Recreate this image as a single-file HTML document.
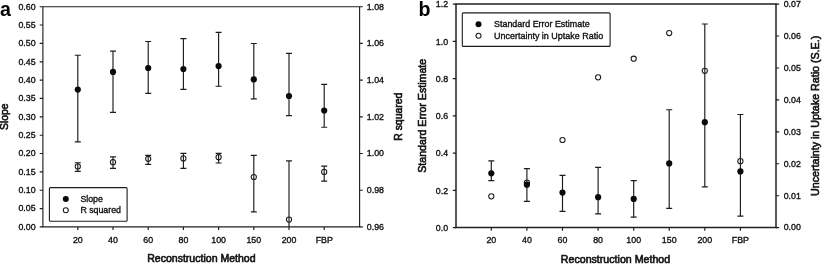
<!DOCTYPE html>
<html lang="en"><head><meta charset="utf-8"><title>Reconstruction Method charts</title>
<style>html,body{margin:0;padding:0;background:#fff;}body{width:822px;height:264px;overflow:hidden;}svg{display:block;}text{font-family:"Liberation Sans", Arial, Helvetica, sans-serif;fill:#111;stroke:#111;stroke-width:0.3px;}.tk{font-size:8.8px;stroke-width:0.35px;}.ti{font-size:10.6px;stroke-width:0.6px;}.pl{font-size:19.6px;font-weight:bold;fill:#000;stroke:none;}.ln{stroke:#1c1c1c;stroke-width:1.15;fill:none;}.ax{stroke:#202020;stroke-width:1.05;fill:none;}.fc{fill:#0a0a0a;stroke:none;}.oc{fill:none;stroke:#1c1c1c;stroke-width:1.05;}</style></head><body>
<svg width="822" height="264" viewBox="0 0 822 264">
<rect x="0" y="0" width="822" height="264" fill="#ffffff"/>
<path class="ax" style="stroke-width:1.15" d="M42.9 6.7H359.6V226.9H42.9Z"/>
<path class="ln" d="M77.8 226.9v3.2M113.0 226.9v3.2M148.2 226.9v3.2M183.4 226.9v3.2M218.6 226.9v3.2M253.8 226.9v3.2M289.0 226.9v3.2M324.2 226.9v3.2M42.9 226.9h-3.2M42.9 208.6h-3.2M42.9 190.2h-3.2M42.9 171.8h-3.2M42.9 153.5h-3.2M42.9 135.2h-3.2M42.9 116.8h-3.2M42.9 98.4h-3.2M42.9 80.1h-3.2M42.9 61.8h-3.2M42.9 43.4h-3.2M42.9 25.0h-3.2M42.9 6.7h-3.2M359.6 226.9h3.2M359.6 190.2h3.2M359.6 153.5h3.2M359.6 116.8h3.2M359.6 80.1h3.2M359.6 43.4h3.2M359.6 6.7h3.2"/>
<text class="tk" x="35.6" y="229.8" text-anchor="end">0.00</text>
<text class="tk" x="35.6" y="211.4" text-anchor="end">0.05</text>
<text class="tk" x="35.6" y="193.0" text-anchor="end">0.10</text>
<text class="tk" x="35.6" y="174.7" text-anchor="end">0.15</text>
<text class="tk" x="35.6" y="156.3" text-anchor="end">0.20</text>
<text class="tk" x="35.6" y="138.0" text-anchor="end">0.25</text>
<text class="tk" x="35.6" y="119.6" text-anchor="end">0.30</text>
<text class="tk" x="35.6" y="101.3" text-anchor="end">0.35</text>
<text class="tk" x="35.6" y="82.9" text-anchor="end">0.40</text>
<text class="tk" x="35.6" y="64.6" text-anchor="end">0.45</text>
<text class="tk" x="35.6" y="46.3" text-anchor="end">0.50</text>
<text class="tk" x="35.6" y="27.9" text-anchor="end">0.55</text>
<text class="tk" x="35.6" y="9.5" text-anchor="end">0.60</text>
<text class="tk" x="366.8" y="229.8">0.96</text>
<text class="tk" x="366.8" y="193.0">0.98</text>
<text class="tk" x="366.8" y="156.3">1.00</text>
<text class="tk" x="366.8" y="119.6">1.02</text>
<text class="tk" x="366.8" y="82.9">1.04</text>
<text class="tk" x="366.8" y="46.3">1.06</text>
<text class="tk" x="366.8" y="9.5">1.08</text>
<text class="tk" x="77.8" y="242.8" text-anchor="middle">20</text>
<text class="tk" x="113.0" y="242.8" text-anchor="middle">40</text>
<text class="tk" x="148.2" y="242.8" text-anchor="middle">60</text>
<text class="tk" x="183.4" y="242.8" text-anchor="middle">80</text>
<text class="tk" x="218.6" y="242.8" text-anchor="middle">100</text>
<text class="tk" x="253.8" y="242.8" text-anchor="middle">150</text>
<text class="tk" x="289.0" y="242.8" text-anchor="middle">200</text>
<text class="tk" x="324.2" y="242.8" text-anchor="middle">FBP</text>
<path class="ln" d="M77.8 55.2V141.8M74.8 55.2H80.8M74.8 141.8H80.8"/>
<circle class="fc" cx="77.8" cy="89.6" r="3.1"/>
<path class="ln" d="M113.0 51.1V112.4M110.0 51.1H116.0M110.0 112.4H116.0"/>
<circle class="fc" cx="113.0" cy="71.9" r="3.1"/>
<path class="ln" d="M148.2 41.5V93.4M145.2 41.5H151.2M145.2 93.4H151.2"/>
<circle class="fc" cx="148.2" cy="68.0" r="3.1"/>
<path class="ln" d="M183.4 38.6V89.4M180.4 38.6H186.4M180.4 89.4H186.4"/>
<circle class="fc" cx="183.4" cy="69.0" r="3.1"/>
<path class="ln" d="M218.6 32.4V86.2M215.6 32.4H221.6M215.6 86.2H221.6"/>
<circle class="fc" cx="218.6" cy="66.1" r="3.1"/>
<path class="ln" d="M253.8 43.5V98.9M250.8 43.5H256.8M250.8 98.9H256.8"/>
<circle class="fc" cx="253.8" cy="79.4" r="3.1"/>
<path class="ln" d="M289.0 53.4V115.6M286.0 53.4H292.0M286.0 115.6H292.0"/>
<circle class="fc" cx="289.0" cy="96.0" r="3.1"/>
<path class="ln" d="M324.2 84.3V127.2M321.2 84.3H327.2M321.2 127.2H327.2"/>
<circle class="fc" cx="324.2" cy="110.5" r="3.1"/>
<path class="ln" d="M77.8 162.7V171.4M74.8 162.7H80.8M74.8 171.4H80.8"/>
<circle class="oc" cx="77.8" cy="166.4" r="2.6"/>
<path class="ln" d="M113.0 156.9V168.3M110.0 156.9H116.0M110.0 168.3H116.0"/>
<circle class="oc" cx="113.0" cy="162.2" r="2.6"/>
<path class="ln" d="M148.2 155.3V164.4M145.2 155.3H151.2M145.2 164.4H151.2"/>
<circle class="oc" cx="148.2" cy="158.8" r="2.6"/>
<path class="ln" d="M183.4 153.3V168.3M180.4 153.3H186.4M180.4 168.3H186.4"/>
<circle class="oc" cx="183.4" cy="158.4" r="2.6"/>
<path class="ln" d="M218.6 153.3V163.0M215.6 153.3H221.6M215.6 163.0H221.6"/>
<circle class="oc" cx="218.6" cy="157.2" r="2.6"/>
<path class="ln" d="M253.8 155.3V211.9M250.8 155.3H256.8M250.8 211.9H256.8"/>
<circle class="oc" cx="253.8" cy="177.0" r="2.6"/>
<path class="ln" d="M289.0 160.8V226.9M286.0 160.8H292.0"/>
<circle class="oc" cx="289.0" cy="219.6" r="2.6"/>
<path class="ln" d="M324.2 166.1V181.1M321.2 166.1H327.2M321.2 181.1H327.2"/>
<circle class="oc" cx="324.2" cy="171.9" r="2.6"/>
<rect class="ln" x="49.4" y="187.6" width="77.7" height="33.7" rx="1" ry="1" style="stroke-width:1.1"/>
<circle class="fc" cx="65.8" cy="198.9" r="3.0"/>
<circle class="oc" cx="65.8" cy="210.3" r="2.5"/>
<text class="tk" x="80.4" y="201.9">Slope</text>
<text class="tk" x="80.4" y="213.2">R squared</text>
<text class="pl" x="0" y="15.6">a</text>
<text class="ti" transform="translate(8.3 116.8) rotate(-90)" text-anchor="middle" textLength="26.6" lengthAdjust="spacingAndGlyphs">Slope</text>
<text class="ti" transform="translate(402.2 116.7) rotate(-90)" text-anchor="middle" textLength="48.2" lengthAdjust="spacingAndGlyphs">R squared</text>
<text class="ti" x="201.4" y="261.9" text-anchor="middle" textLength="108.4" lengthAdjust="spacingAndGlyphs">Reconstruction Method</text>
<path class="ax" style="stroke-width:1.50" d="M456.0 4.1H776.0V227.6H456.0Z"/>
<path class="ln" d="M491.3 227.6v3.2M526.9 227.6v3.2M562.5 227.6v3.2M598.1 227.6v3.2M633.7 227.6v3.2M669.2 227.6v3.2M704.8 227.6v3.2M740.4 227.6v3.2M456.0 227.6h-3.2M456.0 190.3h-3.2M456.0 153.1h-3.2M456.0 115.8h-3.2M456.0 78.6h-3.2M456.0 41.3h-3.2M456.0 4.1h-3.2M776.0 227.6h3.2M776.0 195.7h3.2M776.0 163.7h3.2M776.0 131.8h3.2M776.0 99.9h3.2M776.0 68.0h3.2M776.0 36.0h3.2M776.0 4.1h3.2"/>
<text class="tk" x="448.1" y="230.8" text-anchor="end">0.0</text>
<text class="tk" x="448.1" y="193.5" text-anchor="end">0.2</text>
<text class="tk" x="448.1" y="156.2" text-anchor="end">0.4</text>
<text class="tk" x="448.1" y="119.0" text-anchor="end">0.6</text>
<text class="tk" x="448.1" y="81.8" text-anchor="end">0.8</text>
<text class="tk" x="448.1" y="44.5" text-anchor="end">1.0</text>
<text class="tk" x="448.1" y="7.2" text-anchor="end">1.2</text>
<text class="tk" x="783.7" y="230.4">0.00</text>
<text class="tk" x="783.7" y="198.5">0.01</text>
<text class="tk" x="783.7" y="166.6">0.02</text>
<text class="tk" x="783.7" y="134.7">0.03</text>
<text class="tk" x="783.7" y="102.7">0.04</text>
<text class="tk" x="783.7" y="70.8">0.05</text>
<text class="tk" x="783.7" y="38.9">0.06</text>
<text class="tk" x="783.7" y="6.9">0.07</text>
<text class="tk" x="491.3" y="243.4" text-anchor="middle">20</text>
<text class="tk" x="526.9" y="243.4" text-anchor="middle">40</text>
<text class="tk" x="562.5" y="243.4" text-anchor="middle">60</text>
<text class="tk" x="598.1" y="243.4" text-anchor="middle">80</text>
<text class="tk" x="633.7" y="243.4" text-anchor="middle">100</text>
<text class="tk" x="669.2" y="243.4" text-anchor="middle">150</text>
<text class="tk" x="704.8" y="243.4" text-anchor="middle">200</text>
<text class="tk" x="740.4" y="243.4" text-anchor="middle">FBP</text>
<circle class="oc" cx="491.3" cy="196.3" r="2.6"/>
<circle class="oc" cx="526.9" cy="182.7" r="2.6"/>
<circle class="oc" cx="562.5" cy="140.0" r="2.6"/>
<circle class="oc" cx="598.1" cy="77.3" r="2.6"/>
<circle class="oc" cx="633.7" cy="58.7" r="2.6"/>
<circle class="oc" cx="669.2" cy="33.0" r="2.6"/>
<circle class="oc" cx="704.8" cy="70.8" r="2.6"/>
<circle class="oc" cx="740.4" cy="161.2" r="2.6"/>
<path class="ln" d="M491.3 160.8V180.6M488.3 160.8H494.3M488.3 180.6H494.3"/>
<circle class="fc" cx="491.3" cy="173.3" r="3.1"/>
<path class="ln" d="M526.9 168.6V201.4M523.9 168.6H529.9M523.9 201.4H529.9"/>
<circle class="fc" cx="526.9" cy="184.7" r="3.1"/>
<path class="ln" d="M562.5 175.3V211.3M559.5 175.3H565.5M559.5 211.3H565.5"/>
<circle class="fc" cx="562.5" cy="192.6" r="3.1"/>
<path class="ln" d="M598.1 167.3V213.9M595.1 167.3H601.1M595.1 213.9H601.1"/>
<circle class="fc" cx="598.1" cy="197.2" r="3.1"/>
<path class="ln" d="M633.7 180.6V217.1M630.7 180.6H636.7M630.7 217.1H636.7"/>
<circle class="fc" cx="633.7" cy="198.9" r="3.1"/>
<path class="ln" d="M669.2 109.7V208.3M666.2 109.7H672.2M666.2 208.3H672.2"/>
<circle class="fc" cx="669.2" cy="163.4" r="3.1"/>
<path class="ln" d="M704.8 24.0V186.9M701.8 24.0H707.8M701.8 186.9H707.8"/>
<circle class="fc" cx="704.8" cy="122.2" r="3.1"/>
<path class="ln" d="M740.4 114.5V216.1M737.4 114.5H743.4M737.4 216.1H743.4"/>
<circle class="fc" cx="740.4" cy="171.4" r="3.1"/>
<rect class="ln" x="462.3" y="12.9" width="147.8" height="33.5" rx="1" ry="1" style="stroke-width:1.1"/>
<circle class="fc" cx="478.5" cy="24.2" r="3.0"/>
<circle class="oc" cx="478.5" cy="35.7" r="2.5"/>
<text class="tk" x="494.0" y="27.4" textLength="95.6" lengthAdjust="spacingAndGlyphs">Standard Error Estimate</text>
<text class="tk" x="494.0" y="38.8" textLength="109.2" lengthAdjust="spacingAndGlyphs">Uncertainty in Uptake Ratio</text>
<text class="pl" x="418.4" y="15.7">b</text>
<text class="ti" transform="translate(425.9 115.8) rotate(-90)" text-anchor="middle" textLength="113.9" lengthAdjust="spacingAndGlyphs">Standard Error Estimate</text>
<text class="ti" transform="translate(818.7 115.9) rotate(-90)" text-anchor="middle" textLength="160.2" lengthAdjust="spacingAndGlyphs">Uncertainty in Uptake Ratio (S.E.)</text>
<text class="ti" x="615.5" y="262.8" text-anchor="middle" textLength="109.4" lengthAdjust="spacingAndGlyphs">Reconstruction Method</text>
</svg></body></html>
